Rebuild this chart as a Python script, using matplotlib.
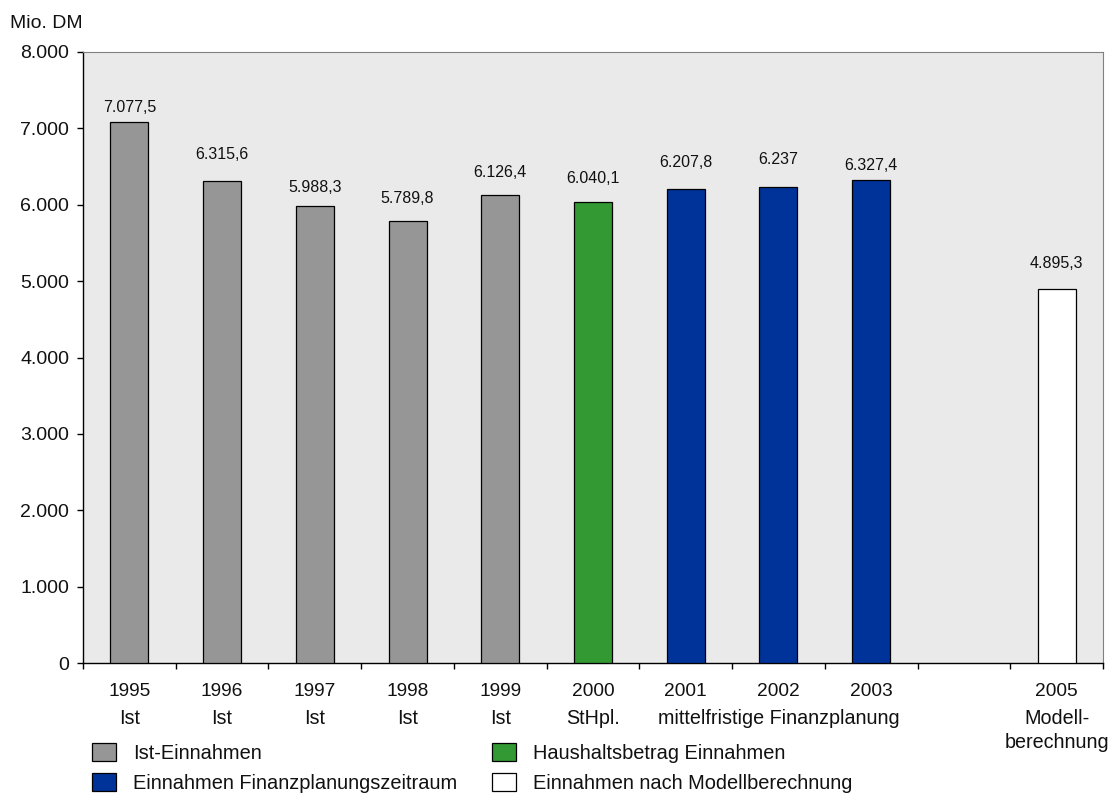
import numpy as np
import matplotlib
matplotlib.use("Agg")
import matplotlib.pyplot as plt
from matplotlib.patches import Patch

plt.rcParams['font.family'] = ['Liberation Sans', 'DejaVu Sans']

# Revenue in Mio. DM per year (2004 has no bar)
years = ['1995', '1996', '1997', '1998', '1999', '2000', '2001', '2002', '2003', '2004', '2005']
values = [7077.5, 6315.6, 5988.3, 5789.8, 6126.4, 6040.1, 6207.8, 6237.0, 6327.4, np.nan, 4895.3]
kinds = ['ist', 'ist', 'ist', 'ist', 'ist', 'haushalt', 'plan', 'plan', 'plan', None, 'modell']
subtitles = ['Ist', 'Ist', 'Ist', 'Ist', 'Ist', 'StHpl.', '', '', '', '', 'Modell-\nberechnung']
year_shown = [True] * 9 + [False, True]
plan_group_label = 'mittelfristige Finanzplanung'
plan_group_center = '2002'

legend_labels = {
    'ist': 'Ist-Einnahmen',
    'plan': 'Einnahmen Finanzplanungszeitraum',
    'haushalt': 'Haushaltsbetrag Einnahmen',
    'modell': 'Einnahmen nach Modellberechnung',
}
colors = {'ist': '#969696', 'haushalt': '#339933', 'plan': '#003399', 'modell': '#ffffff'}

# vertical lift of each value label above its bar, in pixels
label_lift = [15, 26, 18, 22, 23, 23, 26, 27, 14, 0, 26]

y_ticks = [0, 1000, 2000, 3000, 4000, 5000, 6000, 7000, 8000]


def de_number(v, decimals=1):
    if float(v).is_integer():
        s = f"{int(v):,}"
        return s.replace(',', '.')
    s = f"{v:,.{decimals}f}"
    return s.replace(',', 'X').replace('.', ',').replace('X', '.')


W, H = 1109, 794
TEXT = '#111111'
fig = plt.figure(figsize=(W / 100, H / 100), dpi=100)
ax = fig.add_axes([83 / W, 1 - 663 / H, (1103 - 83) / W, (663 - 52) / H])
ax.set_facecolor('#eaeaea')

x = np.arange(len(years))
for xi, v, k in zip(x, values, kinds):
    if k is None or np.isnan(v):
        continue
    ax.bar(xi, v, width=0.41, color=colors[k], edgecolor='black', linewidth=0.9, zorder=3)

for xi, v, lift in zip(x, values, label_lift):
    if np.isnan(v):
        continue
    ax.annotate(de_number(v), xy=(xi, v), xytext=(0, lift), textcoords='offset pixels',
                ha='center', va='center', fontsize=11.5, color=TEXT)

ax.set_xlim(-0.5, len(years) - 0.5)
ax.set_ylim(0, 8000)

# Axis styling
for side in ['top', 'right']:
    ax.spines[side].set_color('#808080')
    ax.spines[side].set_linewidth(0.8)
for side in ['left', 'bottom']:
    ax.spines[side].set_color('black')
    ax.spines[side].set_linewidth(1.0)

ax.set_yticks(y_ticks)
ax.set_yticklabels([de_number(t) for t in y_ticks])
ax.tick_params(axis='y', length=4, width=1.0, pad=6, labelsize=14, labelcolor=TEXT,
               direction='out')

ax.set_xticks(np.arange(len(years) + 1) - 0.5)
ax.set_xticklabels([])
ax.tick_params(axis='x', length=4, width=1.0, direction='out')

# Category labels below the axis
CAT_FS = 14.2
for xi, yr, sub, shown in zip(x, years, subtitles, year_shown):
    if shown:
        ax.annotate(yr, xy=(xi, 0), xycoords=('data', 'axes fraction'),
                    xytext=(0, -29), textcoords='offset pixels',
                    ha='center', va='center', fontsize=13.8, color=TEXT)
    for j, line in enumerate(sub.split('\n')):
        if line:
            ax.annotate(line, xy=(xi, 0), xycoords=('data', 'axes fraction'),
                        xytext=(0, -55 - 24 * j), textcoords='offset pixels',
                        ha='center', va='center', fontsize=CAT_FS, color=TEXT)

ax.annotate(plan_group_label, xy=(years.index(plan_group_center), 0),
            xycoords=('data', 'axes fraction'),
            xytext=(0, -55), textcoords='offset pixels',
            ha='center', va='center', fontsize=CAT_FS, color=TEXT)

fig.text(10 / W, 1 - 23 / H, 'Mio. DM', ha='left', va='center', fontsize=14, color=TEXT)

order = ['ist', 'plan', 'haushalt', 'modell']
handles = [Patch(facecolor=colors[k], edgecolor='black', linewidth=0.9, label=legend_labels[k])
           for k in order]
leg = fig.legend(handles=handles, ncol=2, loc='upper left',
                 bbox_to_anchor=(92 / W, 1 - 743 / H), frameon=False,
                 fontsize=14.4, handlelength=1.2, handleheight=1.0, handletextpad=0.85,
                 labelspacing=0.5, columnspacing=1.75, borderpad=0, borderaxespad=0)
for t in leg.get_texts():
    t.set_color(TEXT)

fig.savefig('out.png', dpi=100)
